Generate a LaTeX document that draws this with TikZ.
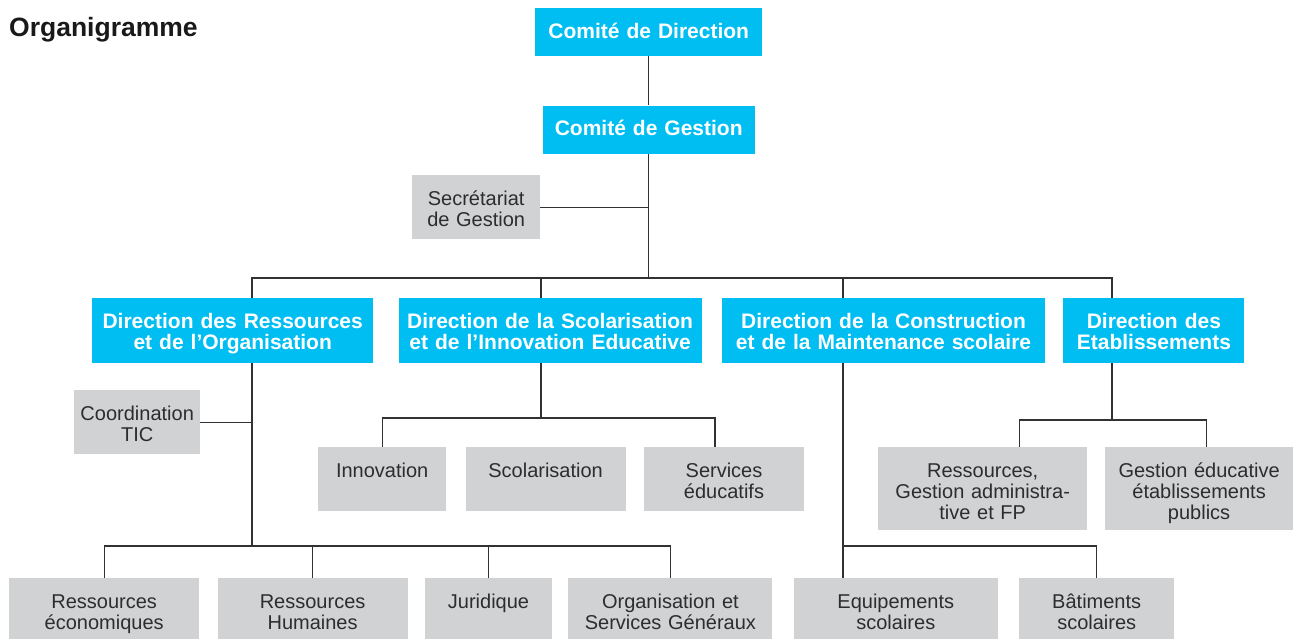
\documentclass[tikz,border=0pt]{standalone}
\usepackage{fontspec}
\setmainfont{Liberation Sans}
\usetikzlibrary{positioning}
\definecolor{orgblue}{RGB}{0,190,242}
\definecolor{orggray}{RGB}{209,210,212}
\definecolor{orgtext}{RGB}{45,45,45}
\definecolor{orgline}{RGB}{50,50,50}

\begin{document}
\begin{tikzpicture}[
  x=1pt, y=-1pt,
  bluebox/.style={fill=orgblue, text=white, align=center, inner sep=0pt,
    font=\bfseries\fontsize{21}{21}\selectfont, text height=30pt, text depth=#1-30pt},
  bluebox/.default=65pt,
  graybox/.style={fill=orggray, text=orgtext, align=center, inner sep=0pt,
    font=\fontsize{20}{21}\selectfont, text height=30pt, text depth=#1-30pt},
  graybox/.default=64pt,
  link/.style={draw=orgline, line width=1.2pt}
]
\useasboundingbox (0,0) rectangle (1293,639);

\node[anchor=base west, inner sep=0pt, text=black!90,
  font=\bfseries\fontsize{26.5}{28}\selectfont] (title) at (9,37) {Organigramme};

% top of the chart
\node[bluebox=48pt, text width=227pt, anchor=north west] (cd) at (535,8) {Comité de Direction};
\node[bluebox=48pt, text width=212pt, below=49pt of cd] (cg) {Comité de Gestion};
\node[graybox, text width=128pt, anchor=north west] (sg) at (412,175) {Secrétariat\\de Gestion};

% directions
\node[bluebox, text width=281pt, anchor=north west] (dro) at (92,298) {Direction des Ressources\\et de l’Organisation};
\node[bluebox, text width=303pt, right=25pt of dro] (dsie) {Direction de la Scolarisation\\et de l’Innovation Educative};
\node[bluebox, text width=323pt, right=20pt of dsie] (dcms) {Direction de la Construction\\et de la Maintenance scolaire};
\node[bluebox, text width=181pt, right=18pt of dcms] (de) {Direction des\\Etablissements};

% services
\node[graybox, text width=126pt, anchor=north west] (tic) at (74,390) {Coordination\\TIC};
\node[graybox, text width=128pt, anchor=north west] (inno) at (318,447) {Innovation};
\node[graybox, text width=160pt, right=19pt of inno] (scol) {Scolarisation};
\node[graybox, text width=160pt, right=18pt of scol] (serv) {Services\\éducatifs};
\node[graybox=83pt, text width=209pt, anchor=north west] (rgaf) at (878,447) {Ressources,\\Gestion administra-\\tive et FP};
\node[graybox=83pt, text width=189pt, right=17pt of rgaf] (gep) {Gestion éducative\\établissements\\publics};

\node[graybox=61pt, text width=190pt, anchor=north west] (reco) at (9,578) {Ressources\\économiques};
\node[graybox=61pt, text width=190pt, right=18pt of reco] (rhum) {Ressources\\Humaines};
\node[graybox=61pt, text width=127pt, right=17pt of rhum] (jur) {Juridique};
\node[graybox=61pt, text width=204pt, right=16pt of jur] (osg) {Organisation et\\Services Généraux};
\node[graybox=61pt, text width=204pt, right=21pt of osg] (equip) {Equipements\\scolaires};
\node[graybox=61pt, text width=155pt, right=21pt of equip] (bat) {Bâtiments\\scolaires};

% junctions
\coordinate (gbus) at (648,278);
\coordinate (ro-bus) at (252,546);
\coordinate (si-bus) at (541,418);
\coordinate (et-bus) at (1112,420);
\coordinate (cm-bus) at (843,546);

\draw[link] (cd) -- (cg);
\draw[link] (cg) -- (cg |- gbus);
\draw[link] (sg) -- (sg -| cg);
\draw[link] (dro.north -| ro-bus) |- (gbus) -| (de.north -| et-bus);
\draw[link] (dsie.north -| si-bus) -- (gbus -| si-bus);
\draw[link] (dcms.north -| cm-bus) -- (gbus -| cm-bus);

\draw[link] (dro.south -| ro-bus) -- (ro-bus);
\draw[link] (tic) -- (tic -| ro-bus);
\draw[link] (reco) |- (ro-bus) -| (osg);
\draw[link] (rhum) -- (rhum |- ro-bus);
\draw[link] (jur) -- (jur |- ro-bus);

\draw[link] (dsie.south -| si-bus) -- (si-bus);
\draw[link] (inno) |- (si-bus) -| ([xshift=-9pt]serv.north);

\draw[link] (de.south -| et-bus) -- (et-bus);
\draw[link] ([xshift=37pt]rgaf.north) |- (et-bus) -| ([xshift=7pt]gep.north);

\draw[link] (dcms.south -| cm-bus) -- (equip.north -| cm-bus);
\draw[link] (cm-bus) -| (bat);
\end{tikzpicture}
\end{document}
